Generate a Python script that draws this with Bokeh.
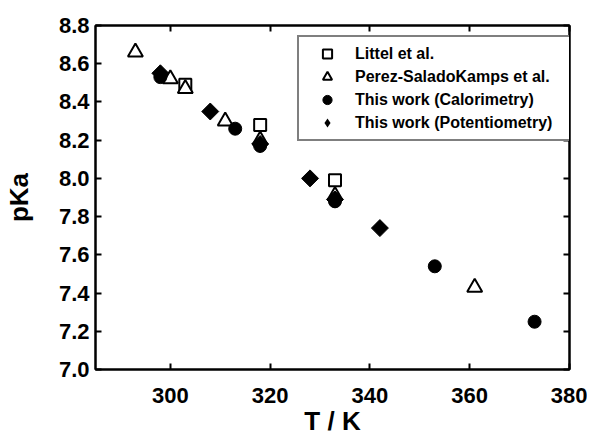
import numpy as np
from bokeh.plotting import figure
from bokeh.models import (LinearAxis, FixedTicker, PrintfTickFormatter, Legend,
                          LegendItem, CustomLabelingPolicy, ColumnDataSource)
from bokeh.embed import file_html
from bokeh.resources import INLINE

# ---- data ----
littel_T = [303, 318, 333]
littel_pKa = [8.49, 8.28, 7.99]

perez_T = [293, 300, 303, 311, 318, 333, 361]
perez_pKa = [8.66, 8.52, 8.47, 8.30, 8.20, 7.91, 7.43]

calor_T = [298, 313, 318, 333, 353, 373]
calor_pKa = [8.53, 8.26, 8.17, 7.88, 7.54, 7.25]

poten_T = [298, 308, 318, 328, 333, 342]
poten_pKa = [8.55, 8.35, 8.18, 8.00, 7.89, 7.74]

x_ticks = [300, 320, 340, 360, 380]
y_ticks = [7.0, 7.2, 7.4, 7.6, 7.8, 8.0, 8.2, 8.4, 8.6, 8.8]

FONT = "Liberation Sans"
W, H = 587, 441
FL, FB = 95, 369  # frame left / bottom in canvas pixels

p = figure(width=W, height=H, x_range=(285, 380), y_range=(7.0, 8.8),
           output_backend="svg", toolbar_location=None,
           min_border_left=FL, min_border_right=11, min_border_top=25,
           min_border_bottom=H - FB)
p.grid.visible = False
p.outline_line_color = "black"
p.outline_line_width = 2

def style_axis(ax, show_labels=True):
    ax.axis_line_width = 2
    ax.axis_line_color = "black"
    ax.major_tick_in = 6
    ax.major_tick_out = 0
    ax.major_tick_line_width = 2
    ax.minor_tick_line_color = None
    if show_labels:
        ax.major_label_text_font = FONT
        ax.major_label_text_font_style = "bold"
        ax.major_label_text_font_size = "22px"
        ax.major_label_text_color = "black"
        ax.axis_label_text_font = FONT
        ax.axis_label_text_font_style = "bold"
        ax.axis_label_text_color = "black"
    else:
        ax.major_label_policy = CustomLabelingPolicy(code="return new Set()")
        ax.major_label_standoff = 0

xb = p.xaxis[0]
xb.ticker = FixedTicker(ticks=x_ticks)
style_axis(xb)
xb.major_label_standoff = 18
xb.axis_label = "T / K"
xb.axis_label_text_font_size = "26px"
xb.axis_label_standoff = 0

yl = p.yaxis[0]
yl.ticker = FixedTicker(ticks=y_ticks)
yl.formatter = PrintfTickFormatter(format="%.1f")
style_axis(yl)
yl.major_label_standoff = 6
yl.axis_label = "pKa"
yl.axis_label_text_font_size = "26px"
yl.axis_label_standoff = 22

xt = LinearAxis(ticker=FixedTicker(ticks=x_ticks))
style_axis(xt, False)
p.add_layout(xt, "above")
yr = LinearAxis(ticker=FixedTicker(ticks=y_ticks))
style_axis(yr, False)
p.add_layout(yr, "right")

r_sq = p.scatter(littel_T, littel_pKa, marker="square", size=12,
                 fill_color="white", line_color="black", line_width=2)
r_tr = p.scatter(perez_T, perez_pKa, marker="triangle", size=15,
                 fill_color="white", line_color="black", line_width=2)
r_ci = p.scatter(calor_T, calor_pKa, marker="circle", size=13,
                 fill_color="black", line_color="black")
di_src = ColumnDataSource(dict(T=poten_T, pKa=poten_pKa))
r_di = p.scatter("T", "pKa", source=di_src, marker="square", angle=np.pi / 4, size=12,
                 fill_color="black", line_color="black")
# legend swatch for the diamond series (legend glyphs are never rotated);
# zero-size on the plot so only the legend shows it
r_di_key = p.scatter("T", "pKa", source=di_src, marker="diamond", size=0,
                     fill_color="black", line_color=None)

legend = Legend(items=[
    LegendItem(label="Littel et al.", renderers=[r_sq]),
    LegendItem(label="Perez-SaladoKamps et al.", renderers=[r_tr]),
    LegendItem(label="This work (Calorimetry)", renderers=[r_ci]),
    LegendItem(label="This work (Potentiometry)", renderers=[r_di_key]),
], location=(202, 228))
legend.label_text_font = FONT
legend.label_text_font_style = "bold"
legend.label_text_font_size = "16px"
legend.label_text_color = "black"
legend.border_line_color = "black"
legend.border_line_width = 2
legend.background_fill_color = "white"
legend.background_fill_alpha = 1
legend.glyph_width = 46
legend.glyph_height = 23
legend.label_height = 23
legend.label_width = 210
legend.spacing = 0
legend.padding = 5
legend.margin = 0
legend.label_standoff = 5
p.add_layout(legend, "center")

open("out.html", "w").write(file_html(p, INLINE))
